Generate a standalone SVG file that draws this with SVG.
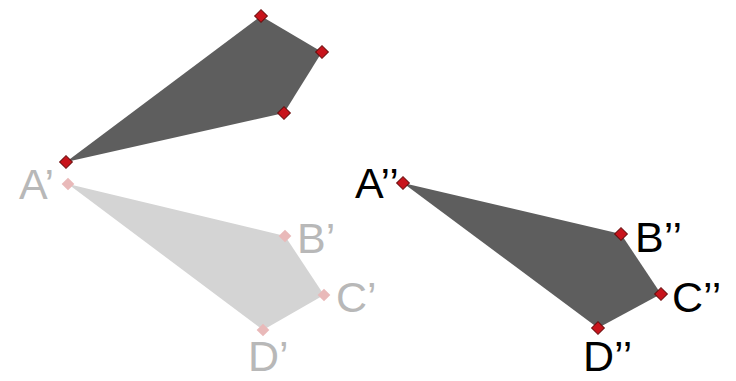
<svg xmlns="http://www.w3.org/2000/svg" width="736" height="381" viewBox="0 0 736 381">
<style>
.dark{fill:#5e5e5e}
.light{fill:#d4d4d4}
.pt{fill:#c8141c;stroke:#6a0a0a;stroke-width:1}
.lpt{fill:#e9b9b9}
.lbl{font-family:"Liberation Sans",Arial,sans-serif;font-size:43px}
.g{fill:#b8b8b8}
.k{fill:#000}
</style>
<defs>
<rect id="dm" x="-4.5" y="-4.5" width="9" height="9" transform="rotate(45)"/>
</defs>
<rect width="736" height="381" fill="#fff"/>
<g id="quad-light">
<polygon class="light" points="68,184 285,236 324,295 263,330"/>
<use href="#dm" class="lpt" x="68" y="184"/>
<use href="#dm" class="lpt" x="285" y="236"/>
<use href="#dm" class="lpt" x="324" y="295"/>
<use href="#dm" class="lpt" x="263" y="330"/>
<text class="lbl g" x="19" y="199">A’</text>
<text class="lbl g" x="297" y="253">B’</text>
<text class="lbl g" x="336" y="312">C’</text>
<text class="lbl g" x="248" y="371">D’</text>
</g>
<g id="quad-top">
<polygon class="dark" points="66,162 261,16 322,52 284,113"/>
<use href="#dm" class="pt" x="66" y="162"/>
<use href="#dm" class="pt" x="261" y="16"/>
<use href="#dm" class="pt" x="322" y="52"/>
<use href="#dm" class="pt" x="284" y="113"/>
</g>
<g id="quad-right">
<polygon class="dark" points="403,183 621,234 661,294 598,328"/>
<use href="#dm" class="pt" x="403" y="183"/>
<use href="#dm" class="pt" x="621" y="234"/>
<use href="#dm" class="pt" x="661" y="294"/>
<use href="#dm" class="pt" x="598" y="328"/>
<text class="lbl k" x="355" y="198">A’’</text>
<text class="lbl k" x="635" y="252">B’’</text>
<text class="lbl k" x="672" y="312">C’’</text>
<text class="lbl k" x="583" y="371">D’’</text>
</g>
</svg>
